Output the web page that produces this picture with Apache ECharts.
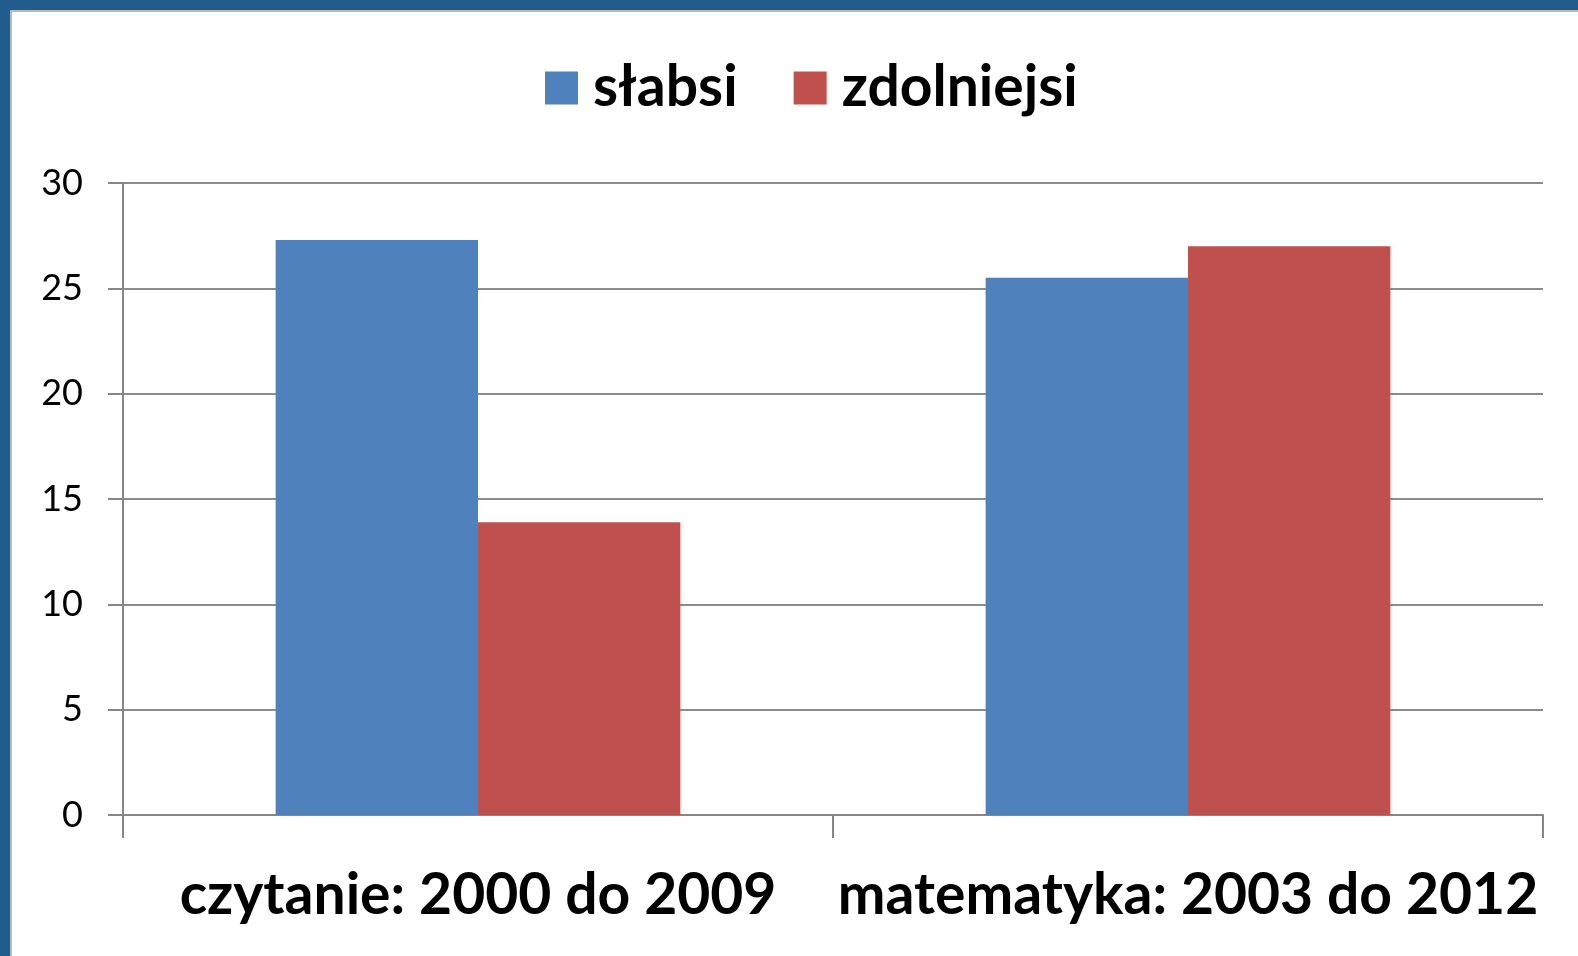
<!DOCTYPE html>
<html>
<head>
<meta charset="utf-8">
<script src="https://cdn.jsdelivr.net/npm/echarts@6/dist/echarts.min.js"></script>
<style>
html,body{margin:0;padding:0;background:#fff;}
#chart{width:1578px;height:956px;}
</style>
</head>
<body>
<div id="chart"></div>
<script>
const categories = ['czytanie: 2000 do 2009', 'matematyka: 2003 do 2012'];
const seriesNames = ['słabsi', 'zdolniejsi'];
const slabsi = [27.3, 25.5];
const zdolniejsi = [13.9, 27.0];
const yTicks = [0, 5, 10, 15, 20, 25, 30];

const chart = echarts.init(document.getElementById('chart'), null, {renderer: 'canvas'});
chart.setOption({
  backgroundColor: '#ffffff',
  animation: false,
  graphic: [
    {type: 'rect', left: 0, top: 0, shape: {width: 1578, height: 10}, style: {fill: '#215c8c'}, z: 10},
    {type: 'rect', left: 0, top: 0, shape: {width: 10, height: 956}, style: {fill: '#215c8c'}, z: 10},
    {type: 'line', shape: {x1: 10, y1: 11, x2: 1578, y2: 11}, style: {stroke: '#b8b8b8', lineWidth: 2}, z: 10},
    {type: 'line', shape: {x1: 11, y1: 10, x2: 11, y2: 956}, style: {stroke: '#b8b8b8', lineWidth: 2}, z: 10}
  ],
  legend: {
    data: seriesNames,
    top: 53,
    left: 540,
    itemWidth: 33,
    itemHeight: 33,
    itemGap: 56,
    icon: 'rect',
    textStyle: {fontFamily: 'Lato', fontWeight: 'bold', fontSize: 57, lineHeight: 60, color: '#000', padding: [0, 0, 0, 10]}
  },
  grid: {left: 123, right: 35, top: 183, bottom: 141, containLabel: false},
  xAxis: {
    type: 'category',
    data: categories,
    axisLine: {lineStyle: {color: '#868686', width: 2}},
    axisTick: {show: true, length: 23, lineStyle: {color: '#868686', width: 2}},
    axisLabel: {fontFamily: 'Lato', fontWeight: 'bold', fontSize: 57, color: '#000', margin: 52, interval: 0}
  },
  yAxis: {
    type: 'value',
    min: yTicks[0],
    max: yTicks[yTicks.length - 1],
    interval: 5,
    axisLine: {show: true, lineStyle: {color: '#868686', width: 2}},
    axisTick: {show: true, length: 15, lineStyle: {color: '#868686', width: 2}},
    axisLabel: {fontFamily: 'Lato', fontSize: 36, color: '#000', margin: 40},
    splitLine: {lineStyle: {color: '#8c8c8c', width: 2}}
  },
  series: [
    {name: seriesNames[0], type: 'bar', data: slabsi, barGap: '0%', barCategoryGap: '43%', itemStyle: {color: '#4f81bd'}},
    {name: seriesNames[1], type: 'bar', data: zdolniejsi, barGap: '0%', barCategoryGap: '43%', itemStyle: {color: '#c0504d'}}
  ]
});
</script>
</body>
</html>
